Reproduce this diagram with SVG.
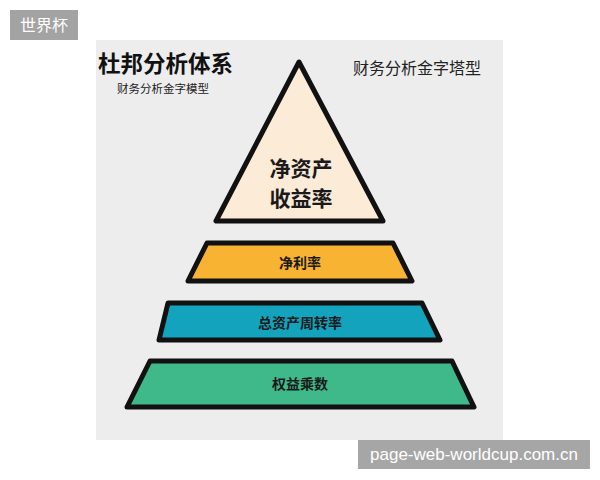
<svg xmlns="http://www.w3.org/2000/svg" width="600" height="480" viewBox="0 0 600 480">
<style>
.cjk{font-family:"Noto Sans CJK SC","Noto Sans",sans-serif}
.shape{stroke:#111;stroke-width:5;stroke-linejoin:round}
.lbl{font-weight:bold;fill:#1a1a1a;text-anchor:middle}
</style>
<rect width="600" height="480" fill="#ffffff"/>
<rect x="96" y="40" width="407" height="400" fill="#eeeded"/>
<g id="tag">
<rect x="10" y="10" width="68" height="30" fill="#a3a3a3"/>
<text x="44" y="31" class="cjk" font-size="16" fill="#ffffff" text-anchor="middle">世界杯</text>
</g>
<g id="title">
<text x="98" y="72" class="cjk" font-size="22.5" font-weight="bold" fill="#111">杜邦分析体系</text>
<text x="117" y="93" class="cjk" font-size="11.5" fill="#222">财务分析金字模型</text>
</g>
<text x="353" y="74" class="cjk" font-size="16" fill="#222">财务分析金字塔型</text>
<g id="roe">
<polygon class="shape" points="299,62 216,221 383,221" fill="#fcebd6"/>
<text x="301" y="176" class="cjk lbl" font-size="21">净资产</text>
<text x="301" y="206" class="cjk lbl" font-size="21">收益率</text>
</g>
<g id="net-margin">
<polygon class="shape" points="207,243 393,243 412,281 188,281" fill="#f8b332"/>
<text x="300" y="268" class="cjk lbl" font-size="14">净利率</text>
</g>
<g id="asset-turnover">
<polygon class="shape" points="168,303 422,303 440,340 159,340" fill="#13a3bd"/>
<text x="300" y="328" class="cjk lbl" font-size="14">总资产周转率</text>
</g>
<g id="equity-multiplier">
<polygon class="shape" points="150,361 452,361 474,407 127,407" fill="#3fb98a"/>
<text x="300" y="389" class="cjk lbl" font-size="14">权益乘数</text>
</g>
<g id="connectors"></g>
<g id="watermark">
<rect x="358" y="440" width="232" height="29" fill="#a6a6a6"/>
<text x="474" y="460" font-family="Liberation Sans,Arial,sans-serif" font-size="17" fill="#ffffff" text-anchor="middle">page-web-worldcup.com.cn</text>
</g>
</svg>
